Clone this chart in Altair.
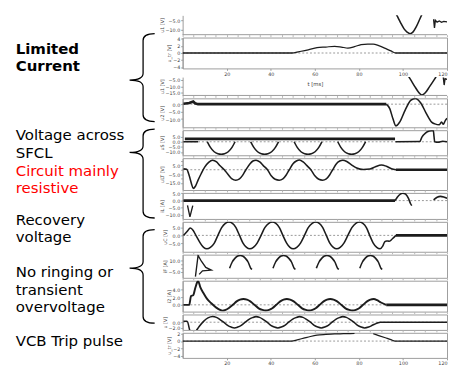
import altair as alt
import pandas as pd

# ---------------- data (t in ms, values in panel units) ----------------
T_TICKS = [20, 40, 60, 80, 100, 120]

A_DIP = [(96.5, -1.0), (97.7, -3.5), (99.0, -6.5), (100.5, -9.5), (102.0, -11.3), (103.2, -12.0),
         (104.5, -11.2), (106.0, -8.5), (107.8, -4.0), (109.0, -1.0)]
A_TAIL = [(113.9, -4.5), (114.3, -9.0), (114.7, -5.0), (115.5, -6.0), (116.5, -5.4), (117.5, -6.1),
          (118.5, -5.6), (120.0, -5.9)]

B_PULSE = [(0, 0), (49.5, 0), (53, 0.4), (57, 0.9), (61, 1.5), (65, 1.7), (69, 1.9), (72, 1.7), (75, 1.4),
           (78, 1.8), (81, 2.4), (84, 2.55), (86.5, 2.55), (89, 2.1), (92, 1.3), (94.5, 0.6), (96.8, 0), (120, 0)]

C_DIP = [(102.5, -2.0), (103.4, -4.5), (105.3, -10.0), (107.0, -14.5), (108.6, -17.0), (110.2, -15.0),
         (112.0, -10.5), (113.9, -5.5), (115.0, -2.5)]
C_TAIL = [(118.3, -3.0), (118.7, -9.0), (119.1, -4.0), (120.0, -4.5)]

D_FLAT = [(0.4, 0.3), (3.0, 0.8), (4.8, 1.8), (5.6, 0.6), (7.0, 0.0), (92.4, 0.0)]
D_WAVE = [(92.4, 0), (94.0, -3.0), (95.5, -10.0), (96.8, -14.5), (98.5, -12.0), (101.0, -4.0), (103.5, 2.5),
          (105.6, 3.8), (108.0, 1.0), (110.5, -6.0), (113.0, -12.0), (114.5, -13.2), (116.5, -13.8),
          (117.5, -12.0), (118.3, -13.5), (119.2, -11.0), (120.0, -9.5)]

E_LEVEL = [(1.0, 2.9), (96.4, 2.9)]
E_START = [(0.4, 0.0), (7.0, 0.0)]
E_LOBE1 = [(11.2, 0), (12.6, -5.5), (14.3, -9.8), (16.0, -11.8), (17.5, -12.3), (19.0, -11.8), (20.7, -9.8),
           (22.4, -5.5), (23.8, 0)]
E_LOBE2 = [(30.9, 0), (32.3, -5.5), (34.0, -9.8), (35.7, -11.8), (37.2, -12.3), (38.7, -11.8), (40.4, -9.8),
           (42.1, -5.5), (43.5, 0)]
E_LOBE3 = [(50.6, 0), (52.0, -5.5), (53.7, -9.8), (55.4, -11.8), (56.9, -12.3), (58.4, -11.8), (60.1, -9.8),
           (61.8, -5.5), (63.2, 0)]
E_LOBE4 = [(70.4, 0), (71.8, -5.5), (73.5, -9.8), (75.2, -11.8), (76.7, -12.3), (78.2, -11.8), (79.9, -9.8),
           (81.6, -5.5), (83.0, 0)]
E_AFTER = [(96.6, 0), (107.6, 0.2), (108.6, 4.5), (110.2, 8.5), (112.0, 10.5), (113.8, 11.0), (114.1, 5.0),
           (114.4, 0.0), (116.0, -0.5), (118.0, 0.5), (120.0, 0.0)]

F_WAVE = [(0.4, 1.0), (1.8, 0.5), (3.0, -7), (4.0, -16), (4.8, -21.5), (5.8, -19), (7.0, -12), (8.5, -4),
          (10.0, 3), (11.8, 8.5), (13.6, 11), (15.4, 9), (17.0, 4.5), (18.9, 0), (20.8, -6), (22.4, -10.5),
          (24.1, -12), (25.8, -10.5), (27.2, -6.5), (28.7, 0), (30.6, 7), (31.9, 10), (33.3, 11), (35.0, 9),
          (36.5, 5), (38.5, 0), (40.2, -7), (42.0, -11), (43.8, -12), (45.5, -10.5), (47.0, -6), (48.4, 0),
          (50.1, 7), (51.6, 10), (53.0, 11.2), (54.7, 9), (56.3, 5), (58.2, 0), (60.0, -7), (61.8, -11),
          (63.5, -12), (65.2, -10.5), (66.7, -6), (68.1, 0), (69.8, 7), (71.3, 10), (72.7, 11), (74.5, 9.5),
          (76.5, 6), (79.0, 2), (82.0, 0.3), (85.0, 0.8), (87.5, 3.5), (90.2, 5.5), (92.5, 4), (94.8, 1.2),
          (96.8, 0)]
F_FLAT = [(96.8, 0), (120, 0)]

G_FLAT = [(0.4, 0), (96.4, 0)]
G_SPIKE = [(2.2, -3.3), (3.3, -11.3), (4.6, -3.5)]
G_ARC = [(96.4, 0), (97.5, 2.5), (98.8, 4.5), (99.9, 5.1), (101.2, 4.4), (102.5, 1.5), (103.4, -2.0), (104.0, -3.5)]
G_TAIL = [(113.9, 0.5), (115.5, 2.3), (117.0, 2.9), (118.5, 2.5), (120.0, 1.6)]

H_WAVE = [(0.4, 0), (2.0, 2.5), (3.5, 4.8), (4.8, 3.2), (6.2, -0.5), (7.8, -4.5), (9.5, -7.8), (11.0, -8.7),
          (12.6, -7.8), (14.3, -5.2), (16.0, 0), (17.7, 5), (19.4, 7.8), (21.0, 8.6), (22.6, 7.8), (24.2, 5),
          (25.8, 0), (27.4, -5), (29.0, -7.8), (30.5, -8.7), (32.1, -7.8), (33.8, -5), (35.6, 0), (37.3, 5),
          (39.1, 7.8), (40.7, 8.6), (42.3, 7.8), (43.9, 5), (45.5, 0), (47.2, -5), (48.7, -7.8), (50.2, -8.7),
          (51.8, -7.8), (53.5, -5), (55.3, 0), (57.0, 5), (58.8, 7.8), (60.4, 8.6), (62.0, 7.8), (63.6, 5),
          (65.2, 0), (66.8, -5), (68.4, -7.8), (69.9, -8.7), (71.5, -7.8), (73.2, -5), (75.0, 0), (76.8, 5),
          (78.6, 7.8), (80.2, 8.6), (81.8, 7.8), (83.4, 5), (84.9, 0), (86.5, -5), (88.1, -7.8), (89.6, -8.7),
          (90.8, -7), (91.8, -4), (92.6, -3.6), (93.8, -3.8), (95.2, -2.2), (96.8, 0)]
H_FLAT = [(96.8, 0), (120, 0)]

I_SPIKE = [(5.8, -11.0), (7.0, 16.5), (8.5, 9.0), (10.5, 1.0), (13.0, -2.5), (9.0, -3.5), (7.5, -8.0)]
I_ARCH1 = [(21.3, 0), (22.5, 8.0), (23.8, 13.0), (25.0, 15.8), (26.1, 16.5), (27.2, 15.8), (28.4, 13.0),
           (29.7, 8.0), (30.9, 0), (31.5, -1.5)]
I_ARCH2 = [(41.0, 0), (42.2, 8.0), (43.5, 13.0), (44.7, 15.8), (45.8, 16.5), (46.9, 15.8), (48.1, 13.0),
           (49.4, 8.0), (50.6, 0), (51.2, -1.5)]
I_ARCH3 = [(60.7, 0), (61.9, 8.0), (63.2, 13.0), (64.4, 15.8), (65.5, 16.5), (66.6, 15.8), (67.8, 13.0),
           (69.1, 8.0), (70.3, 0), (70.9, -1.5)]
I_ARCH4 = [(80.4, 0), (81.6, 8.0), (82.9, 13.0), (84.1, 15.8), (85.2, 16.5), (86.3, 15.8), (87.5, 13.0),
           (88.8, 8.0), (90.0, 0), (90.6, -1.5)]

J_WAVE = [(0.4, 0), (3.0, 0), (3.8, 2.3), (4.8, 2.5), (5.8, 4.5), (7.0, 6.2), (8.0, 4.6), (9.5, 3.0),
          (11.0, 1.6), (13.0, 0.4), (15.0, -0.6), (16.5, -1.2), (18.0, -1.5), (19.5, -1.3), (21.0, -0.8),
          (22.8, 0), (24.5, 0.9), (26.0, 1.35), (27.6, 1.5), (29.2, 1.35), (30.7, 0.9), (32.6, 0), (34.5, -0.9),
          (36.2, -1.3), (37.7, -1.45), (39.2, -1.3), (40.7, -0.9), (42.5, 0), (44.3, 0.9), (45.8, 1.35),
          (47.3, 1.5), (48.8, 1.35), (50.4, 0.9), (52.3, 0), (54.2, -0.9), (55.9, -1.3), (57.4, -1.45),
          (58.9, -1.3), (60.4, -0.9), (62.2, 0), (64.0, 0.9), (65.5, 1.35), (67.0, 1.5), (68.5, 1.35),
          (70.1, 0.9), (72.0, 0), (73.9, -0.9), (75.6, -1.3), (77.1, -1.45), (78.6, -1.3), (80.1, -0.9),
          (81.9, 0), (83.7, 0.9), (85.2, 1.35), (86.7, 1.5), (88.3, 1.2), (90.0, 0.6), (92.4, 0)]
J_FLAT = [(92.4, 0), (120, 0)]

K_WAVE = [(0.4, 0.3), (2.0, 0.3), (3.5, -3.5), (4.6, -4.5), (5.7, -3.5), (7.5, -1.5), (9.5, 0.3), (11.5, 1.5),
          (13.6, 2.0), (15.3, 1.7), (16.8, 1.0), (18.6, 0), (20.4, -1.1), (22.0, -1.7), (23.5, -2.0),
          (25.0, -1.7), (26.6, -1.1), (28.4, 0), (30.1, 1.0), (31.7, 1.6), (33.3, 1.95), (34.9, 1.7),
          (36.5, 1.0), (38.3, 0), (40.0, -1.1), (41.6, -1.7), (43.2, -2.0), (44.8, -1.7), (46.4, -1.1),
          (48.1, 0), (49.8, 1.0), (51.4, 1.6), (53.0, 1.95), (54.6, 1.7), (56.2, 1.0), (58.0, 0), (59.7, -1.1),
          (61.3, -1.7), (62.9, -2.0), (64.5, -1.7), (66.1, -1.1), (67.8, 0), (69.5, 1.0), (71.1, 1.6),
          (72.7, 1.95), (74.3, 1.7), (75.9, 1.0), (77.7, 0), (79.4, -1.1), (81.0, -1.7), (82.6, -2.0),
          (84.4, -1.7), (86.3, -1.0), (88.0, -0.4), (89.8, 0), (120, 0)]

L_SEG1 = [(0, 0), (49.5, 0), (52, 0.35), (55, 0.8), (58, 1.25), (61, 1.6), (65, 1.8), (69, 1.95), (73, 2.0),
          (76, 2.05), (78, 2.1)]
L_SEG2 = [(86.5, 2.0), (89, 1.5), (92, 0.9), (94.5, 0.4), (96.4, 0), (120, 0)]

NOTE_LINES = ["Limited", "Current", "Voltage across", "SFCL", "Circuit mainly", "resistive",
              "Recovery", "voltage", "No ringing or", "transient", "overvoltage", "VCB Trip pulse"]
NOTE_KIND = ["bold", "bold", "plain", "plain", "red", "red", "plain", "plain", "plain", "plain", "plain", "plain"]

# ---------------- layout / style ----------------
PLOT_W = 274
TEXT_W = 151
TOTAL_H = 355
PAGE = 8
INK = "#1c1c1c"
FRAME = "#9a9a9a"
ZERO_C = "#7a7a7a"
FONT = "DejaVu Sans"
BORDER_TICKS = list(range(0, 121, 5))
NOTE_BASE = [48.5, 66, 137.5, 156, 174, 192.5, 225, 243, 279.5, 298, 315, 351]
BRACES = [(27, 118, 75), (126, 218, 150), (230, 327, 270)]  # top, bottom, tip (page px)
SPINE_X, TIP_X, END_X = 147, 133, 159

ZERO_DF = pd.DataFrame({"v": [0.0]})


def to_df(series):
    rows = []
    for name, pts in series.items():
        for i, (t, v) in enumerate(pts):
            rows.append({"t": t, "v": v, "s": name, "i": i})
    return pd.DataFrame(rows)


def panel(h, dom, ticks, title, fmt=".1f", smooth=None, raw=None, thick=None,
          zero=True, frame="full", xaxis="ticks", xtitle=None, lw=1.6):
    yaxis = alt.Axis(values=ticks, format=fmt, title=title, labelFontSize=5, titleFontSize=5,
                     tickSize=2, labelPadding=1, titlePadding=1, domainColor=FRAME, tickColor=FRAME,
                     labelColor="#444", titleColor="#444", titleFontWeight="normal", grid=False,
                     labelFont=FONT, titleFont=FONT)
    if xaxis == "labels":
        xa = alt.Axis(values=T_TICKS, format="d", labelFontSize=5, tickSize=2, labelPadding=1,
                      domain=False, tickColor=FRAME, labelColor="#444", grid=False, labelFont=FONT,
                      titleFont=FONT, titleFontSize=5.5, titleFontWeight="normal", titleColor="#444",
                      titlePadding=6, title=(xtitle if xtitle else ""))
    else:
        xa = alt.Axis(values=BORDER_TICKS, labels=False, title="", tickSize=2, domain=False,
                      tickColor="#b5b5b5", grid=False)
    X = alt.X("t:Q", scale=alt.Scale(domain=[0, 120], nice=False, zero=False), axis=xa)
    Y = alt.Y("v:Q", scale=alt.Scale(domain=dom, nice=False, zero=False), axis=yaxis)
    layers = []
    if zero:
        layers.append(alt.Chart(ZERO_DF).mark_rule(color=ZERO_C, strokeDash=[2, 2], strokeWidth=0.8)
                      .encode(y=Y))
    for group, interp, width in [(thick, "linear", 2.7), (smooth, "monotone", lw), (raw, "linear", 1.4)]:
        if not group:
            continue
        layers.append(alt.Chart(to_df(group))
                      .mark_line(color=INK, strokeWidth=width, interpolate=interp, clip=True)
                      .encode(x=X, y=Y, detail="s:N", order="i:Q"))
    if frame == "open":
        layers.append(alt.Chart(ZERO_DF).mark_rule(color=FRAME, strokeWidth=1).encode(y=alt.value(h)))
    ch = alt.layer(*layers).properties(width=PLOT_W, height=h)
    if frame == "open":
        ch = ch.properties(view=alt.ViewBackground(stroke="transparent"))
    return ch


pA = panel(20, [-12.5, -2.5], [-5, -10], "u1 [V]", smooth={"d": A_DIP}, raw={"t": A_TAIL},
           zero=False, frame="open")
pB = panel(32, [-4.4, 4.4], [4, 2, 0, -2, -4], "u_tr [V]", fmt="d", smooth={"p": B_PULSE},
           xaxis="labels", xtitle="t  [ms]", lw=1.3)
spacer = (alt.Chart(ZERO_DF).mark_rule(opacity=0).encode(y=alt.value(0))
          .properties(width=PLOT_W, height=3, view=alt.ViewBackground(stroke="transparent")))
pC = panel(19, [-17.3, -2.7], [-5, -10, -15], "u1 [V]", smooth={"d": C_DIP}, raw={"t": C_TAIL},
           zero=False, frame="open")
pD = panel(30, [-15.5, 3.9], [0, -5, -10], "u2 [V]", thick={"f": D_FLAT}, smooth={"w": D_WAVE})
pE = panel(26, [-13.3, 11.4], [5, 0, -5, -10], "uS [V]", thick={"l": E_LEVEL},
           smooth={"a": E_LOBE1, "b": E_LOBE2, "c": E_LOBE3, "d": E_LOBE4, "e": E_AFTER},
           raw={"s": E_START})
pF = panel(33, [-23.3, 13.3], [10, 5, 0, -5, -10, -15], "uLT [V]", smooth={"w": F_WAVE},
           thick={"f": F_FLAT})
pG = panel(27, [-12.7, 5.3], [5, 0, -5, -10], "iL [A]", thick={"f": G_FLAT}, raw={"s": G_SPIKE},
           smooth={"a": G_ARC, "t": G_TAIL})
pH = panel(31, [-10.6, 8.75], [5, 0, -5], "uC [V]", smooth={"w": H_WAVE}, thick={"f": H_FLAT})
pI = panel(24, [-12.5, 17.5], [10, 5, 0, -5], "iF [A]",
           smooth={"a": I_ARCH1, "b": I_ARCH2, "c": I_ARCH3, "d": I_ARCH4}, raw={"s": I_SPIKE},
           zero=False)
pJ = panel(32, [-1.75, 6.25], [4, 2, 0], "i2 [A]", smooth={"w": J_WAVE}, thick={"f": J_FLAT}, lw=2.0)
pK = panel(16, [-2.7, 2.7], [0, -2], "u [V]", smooth={"w": K_WAVE})
pL = panel(26, [-4.6, 2.25], [2, 0, -2, -4], "u_tr [V]", fmt="d", smooth={"a": L_SEG1, "b": L_SEG2},
           xaxis="labels", lw=1.3)

plots = alt.vconcat(pA, pB, spacer, pC, pD, pE, pF, pG, pH, pI, pJ, pK, pL, spacing=3, bounds="flush")

# ---------------- left-hand notes and braces ----------------
notes = pd.DataFrame({"text": NOTE_LINES, "kind": NOTE_KIND, "y": [b - PAGE for b in NOTE_BASE]})
base_txt = alt.Chart(notes)


def note_layer(kind, color, weight):
    return (base_txt.transform_filter(alt.datum.kind == kind)
            .mark_text(align="left", baseline="alphabetic", font=FONT, fontSize=15.5, fontWeight=weight,
                       color=color)
            .encode(x=alt.value(7), y=alt.Y("y:Q", scale=None, axis=None), text="text:N"))


def brace(top, bottom, tip, r=50.0):
    cy = (top + bottom) / 2.0
    h = (bottom - top) / 2.0
    d = tip - cy
    c = 7.0
    a = END_X - SPINE_X
    b = TIP_X - SPINE_X
    f = lambda v: f"{v / r:.4f}"
    path = (f"M {f(a)} {f(-h)} Q 0 {f(-h)} 0 {f(-h + c)} L 0 {f(d - c)} Q 0 {f(d)} {f(b)} {f(d)} "
            f"Q 0 {f(d)} 0 {f(d + c)} L 0 {f(h - c)} Q 0 {f(h)} {f(a)} {f(h)}")
    return (alt.Chart(ZERO_DF)
            .mark_point(shape=path, size=(2 * r) ** 2, filled=False, strokeWidth=1.3, color="black",
                        opacity=1)
            .encode(x=alt.value(SPINE_X - PAGE), y=alt.value(cy - PAGE)))


text_panel = alt.layer(
    note_layer("plain", "black", "normal"),
    note_layer("bold", "black", "bold"),
    note_layer("red", "#ff0000", "normal"),
    *[brace(*b) for b in BRACES],
).properties(width=TEXT_W, height=TOTAL_H, view=alt.ViewBackground(stroke="transparent"))

chart = (alt.hconcat(text_panel, plots, spacing=0)
         .properties(padding=0, background="white")
         .configure_view(stroke=FRAME, strokeWidth=1))

chart.save("out.html", embed_options={"renderer": "svg", "actions": False})
